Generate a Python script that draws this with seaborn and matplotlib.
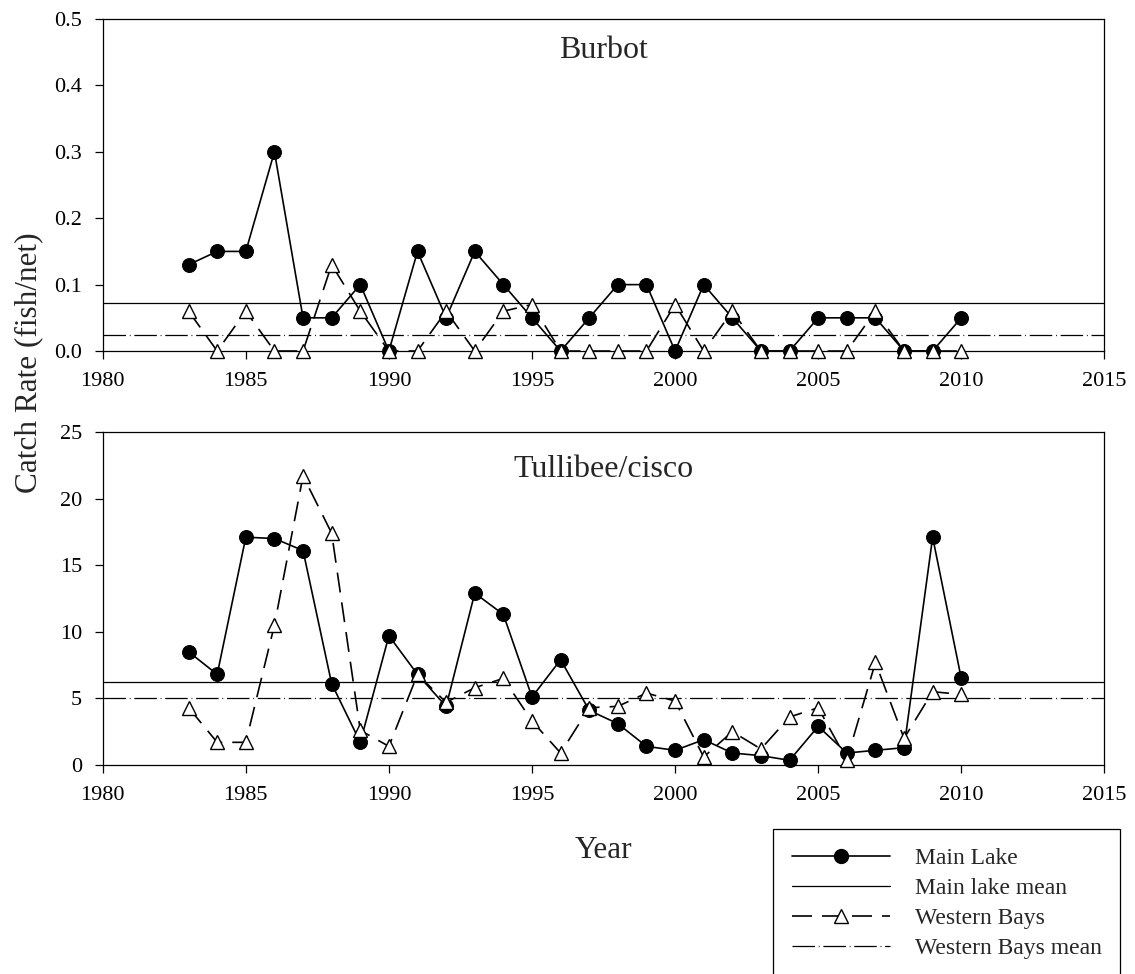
import numpy as np
import pandas as pd
import matplotlib
matplotlib.use('Agg')
import matplotlib.pyplot as plt
from matplotlib.lines import Line2D
import seaborn as sns

# Data
years = list(range(1983, 2011))

burbot_main = [0.13, 0.15, 0.15, 0.30, 0.05, 0.05, 0.10, 0.00, 0.15, 0.05,
               0.15, 0.10, 0.05, 0.00, 0.05, 0.10, 0.10, 0.00, 0.10, 0.05,
               0.00, 0.00, 0.05, 0.05, 0.05, 0.00, 0.00, 0.05]
burbot_west = [0.06, 0.00, 0.06, 0.00, 0.00, 0.13, 0.06, 0.00, 0.00, 0.06,
               0.00, 0.06, 0.07, 0.00, 0.00, 0.00, 0.00, 0.07, 0.00, 0.06,
               0.00, 0.00, 0.00, 0.00, 0.06, 0.00, 0.00, 0.00]

cisco_main = [8.5, 6.8, 17.1, 17.0, 16.1, 6.1, 1.7, 9.7, 6.8, 4.4,
              12.9, 11.3, 5.1, 7.9, 4.1, 3.1, 1.4, 1.1, 1.9, 0.9,
              0.7, 0.35, 2.9, 0.9, 1.1, 1.3, 17.1, 6.5]
cisco_west = [4.3, 1.7, 1.7, 10.5, 21.7, 17.4, 2.6, 1.4, 6.8, 4.7,
              5.8, 6.5, 3.3, 0.9, 4.3, 4.4, 5.4, 4.8, 0.6, 2.5,
              1.2, 3.6, 4.3, 0.4, 7.7, 2.0, 5.5, 5.3]

panel_titles = ['Burbot', 'Tullibee/cisco']
legend_labels = ['Main Lake', 'Main lake mean', 'Western Bays', 'Western Bays mean']

sns.set_style('ticks')
plt.rcParams['font.family'] = ['Liberation Serif', 'DejaVu Serif']

series_dash = (0, (12, 6))
mean_dash = (0, (18, 3, 0.7, 3))

fig = plt.figure(figsize=(11.35, 9.74), dpi=100)
ax_top = fig.add_axes([0.0905, 0.6396, 0.8825, 0.3409])
ax_bot = fig.add_axes([0.0905, 0.2146, 0.8825, 0.3419])

panels = [
    (ax_top, burbot_main, burbot_west, (0, 0.5), np.arange(0, 0.51, 0.1), '%.1f', 0.8825),
    (ax_bot, cisco_main, cisco_west, (0, 25), np.arange(0, 26, 5), '%d', 0.865),
]

for (ax, main, west, ylim, yticks, fmt, ty), title in zip(panels, panel_titles):
    df = pd.DataFrame({'Year': years, 'main': main, 'west': west})

    # horizontal reference lines at the series means
    ax.axhline(np.mean(main), color='black', lw=0.9, zorder=1)
    ax.axhline(np.mean(west), color='black', lw=0.9, ls=mean_dash, zorder=1)

    sns.lineplot(data=df, x='Year', y='main', ax=ax, color='black', lw=1.2,
                 marker='o', markersize=10, markerfacecolor='black',
                 markeredgecolor='black', clip_on=False, zorder=3)
    sns.lineplot(data=df, x='Year', y='west', ax=ax, color='black', lw=1.2,
                 linestyle=series_dash, marker='^', markersize=10,
                 markerfacecolor='white', markeredgecolor='black',
                 markeredgewidth=1.0, clip_on=False, zorder=4)

    ax.set_xlim(1980, 2015)
    ax.set_xticks(range(1980, 2016, 5))
    ax.set_ylim(*ylim)
    ax.set_yticks(yticks)
    ax.set_yticklabels([fmt % v for v in yticks])
    ax.set_xlabel('')
    ax.set_ylabel('')
    ax.tick_params(direction='out', length=6, width=0.9, labelsize=16,
                   color='black', labelcolor='black', pad=9)
    for sp in ax.spines.values():
        sp.set_visible(True)
        sp.set_color('black')
        sp.set_linewidth(0.9)
    ax.text(0.50, ty, title, transform=ax.transAxes, ha='center',
            va='baseline', fontsize=23)

fig.text(0.0256, 1 - 363 / 974, 'Catch Rate (fish/net)', rotation=90,
         ha='center', va='center', fontsize=22.5)
fig.text(0.532, 1 - 858 / 974, 'Year', ha='center', va='baseline',
         fontsize=22.5)

handles = [
    Line2D([], [], color='black', lw=1.2, marker='o', markersize=10,
           markerfacecolor='black'),
    Line2D([], [], color='black', lw=0.9),
    Line2D([], [], color='black', lw=1.2, ls=series_dash, marker='^',
           markersize=10, markerfacecolor='white', markeredgecolor='black'),
    Line2D([], [], color='black', lw=0.9, ls=mean_dash),
]
leg = fig.legend(handles, legend_labels, loc='upper left',
                 bbox_to_anchor=(773 / 1135, 1 - 829 / 974),
                 bbox_transform=fig.transFigure, fontsize=17, frameon=True,
                 fancybox=False, edgecolor='black', framealpha=1,
                 borderpad=0.8, labelspacing=0.35, handlelength=4.15,
                 handletextpad=1.05, numpoints=1, borderaxespad=0)
leg.get_frame().set_linewidth(0.9)

fig.savefig('out.png', dpi=100)
